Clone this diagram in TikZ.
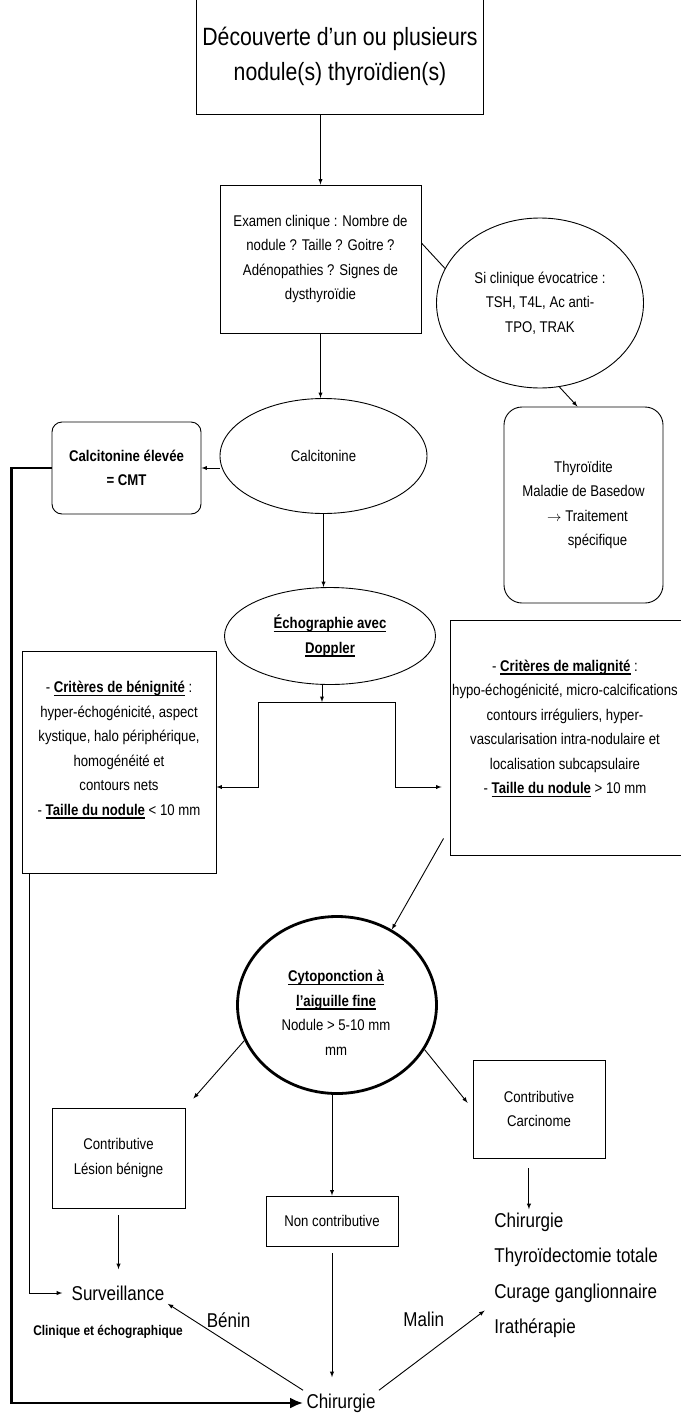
\documentclass[tikz,border=0pt]{standalone}
\usepackage{fontspec}
\setmainfont[FakeStretch=0.85]{Liberation Sans}
\usetikzlibrary{arrows,arrows.meta,positioning,shapes.geometric}

\newcommand{\fbody}{\fontsize{15.5}{24.5}\selectfont}
\newcommand{\ftitle}{\fontsize{25}{35}\selectfont}
\newcommand{\fbig}{\fontsize{20}{35}\selectfont}
\newcommand{\fsmall}{\fontsize{14}{18}\selectfont\bfseries}
% bold text with a heavy underline
\newcommand{\ulbf}[1]{\setbox0\hbox{\bfseries #1}\leavevmode\rlap{\raisebox{-3.5pt}{\rule{\wd0}{1.6pt}}}\box0\relax}

\tikzset{
  box/.style={draw, align=center, inner sep=2pt, font=\fbody},
  rbox/.style={box, rounded corners=#1},
  oval/.style={box, ellipse, inner sep=0pt},
  txt/.style={align=center, inner sep=2pt, font=\fbody},
  big/.style={inner sep=3pt, font=\fbig},
  heavy/.style={line width=2.4pt, -{Latex[length=13pt, width=11pt]}}
}

\begin{document}
\begin{tikzpicture}[x=1pt, y=-1pt, >=latex, line width=0.9pt]
\useasboundingbox (0,0) rectangle (680,1421);

% top of the chart
\node[box, font=\ftitle, minimum width=287pt, minimum height=117pt] (decouv) at (340,56) {Découverte d’un ou plusieurs\\nodule(s) thyroïdien(s)};
\node[box, minimum width=201pt, minimum height=148pt] (exam) at (320.5,259) {Examen clinique : Nombre de\\nodule ? Taille ? Goitre ?\\Adénopathies ? Signes de\\dysthyroïdie};
\node[oval, minimum width=207pt, minimum height=170pt] (siclin) at (540,303) {Si clinique évocatrice :\\TSH, T4L, Ac anti-\\TPO, TRAK};
\node[rbox=18pt, minimum width=159pt, minimum height=196pt] (thyro) at (583.5,505) {Thyroïdite\\Maladie de Basedow\\\hspace*{8pt}$\rightarrow$ Traitement\\\hspace*{28pt}spécifique};

% calcitonine and echographie
\node[oval, minimum width=207pt, minimum height=115pt] (calci) at (323.5,456) {Calcitonine};
\node[rbox=10pt, font=\fbody\bfseries, minimum width=149pt, minimum height=92pt] (cmt) at (126.5,468) {Calcitonine élevée\\= CMT};
\node[oval, minimum width=211pt, minimum height=97pt] (echo) at (330,636) {\ulbf{Échographie avec}\\\ulbf{Doppler}};

% criteria boxes
\node[box, minimum width=194pt, minimum height=222pt] (benbox) at (119,762) {};
\node[txt] (bentxt) at (119,750) {-~\ulbf{Critères de bénignité} :\\hyper-échogénicité, aspect\\kystique, halo périphérique,\\homogénéité et\\contours nets\\-~\ulbf{Taille du nodule} < 10 mm};
\node[box, minimum width=236pt, minimum height=235pt] (malbox) at (568,737.5) {};
\node[txt] (maltxt) at (565,728.5) {-~\ulbf{Critères de malignité} :\\hypo-échogénicité, micro-calcifications\\contours irréguliers, hyper-\\vascularisation intra-nodulaire et\\localisation subcapsulaire\\-~\ulbf{Taille du nodule} > 10 mm};

% cytoponction
\node[oval, line width=2.8pt, minimum width=199pt, minimum height=177pt] (cyto) at (337,1005) {};
\node[txt] (cytotxt) at (336,1013) {\ulbf{Cytoponction à}\\\ulbf{l’aiguille fine}\\Nodule > 5-10 mm\\mm};
\node[box, minimum width=133pt, minimum height=100pt] (lesbox) at (118.5,1158) {Contributive\\Lésion bénigne};
\node[box, minimum width=132pt, minimum height=98pt] (carci) at (539,1109) {Contributive\\Carcinome};
\node[box, minimum width=132pt, minimum height=50pt] (noncont) at (332,1221) {Non contributive};

% outcomes
\node[big] (surv) at (118,1293) {Surveillance};
\node[inner sep=2pt, font=\fsmall] (clinech) at (108,1332) {Clinique et échographique};
\node[big] (chir) at (341,1403) {Chirurgie};
\node[big, anchor=west] (chirtot) at (491,1222) {Chirurgie};
\node[big, anchor=west] (thyrtot) at (491,1257) {Thyroïdectomie totale};
\node[big, anchor=west] (curage) at (491,1293) {Curage ganglionnaire};
\node[big, anchor=west] (irath) at (491,1328) {Irathérapie};

\coordinate (split) at (322,702);
\coordinate (lbend) at (258,787);
\coordinate (rbend) at (395,787);

% connections
\draw[->] (decouv.south -| exam.north) -- (exam.north);
\draw ([yshift=16pt]exam.east) -- (siclin.160);
\draw[->] (siclin.-77) -- ([xshift=-6pt]thyro.north);
\draw[->] (exam.south) -- (exam.south |- calci.north);
\draw[->] (cmt.east -| calci.west) -- (cmt.east);
\draw[->] (calci.south) -- (calci.south |- echo.north);
\draw[->] (echo.south -| split) -- (split);
\draw[->] (split) -| (lbend) -- (lbend -| benbox.east);
\draw[->, shorten >=8pt] (split) -| (rbend) -- (rbend -| malbox.west);
\draw[->] ([shift={(-6pt,17pt)}]malbox.south west) -- (cyto.54);
\draw[->, shorten >=12pt] (cyto.201) -- (lesbox.north east);
\draw[->, shorten >=8pt] (cyto.-27) -- (carci.west);
\draw[->] (cyto.south -| noncont.north) -- (noncont.north);
\draw[->, shorten <=7pt, shorten >=13pt] (lesbox.south) -- (lesbox.south |- surv.north);
\draw[->, shorten <=10pt] (carci.south -| chirtot.north) -- (chirtot.north);
\draw[->, shorten <=7pt, shorten >=13pt] (noncont.south) -- (noncont.south |- chir.north);
\draw[->, shorten >=6pt] ([xshift=8pt]benbox.south west) |- (surv.west);
\draw[->] (chir.north west) -- node[pos=.55, above=15pt, font=\fbig, inner sep=0pt] {Bénin} (surv.south east);
\draw[->, shorten >=8pt] (chir.north east) -- node[pos=.4, above=29pt, font=\fbig, inner sep=0pt] {Malin} (curage.south west);
\draw[heavy] (cmt.west) -- ++(-40,0) |- (chir.west);

\end{tikzpicture}
\end{document}
